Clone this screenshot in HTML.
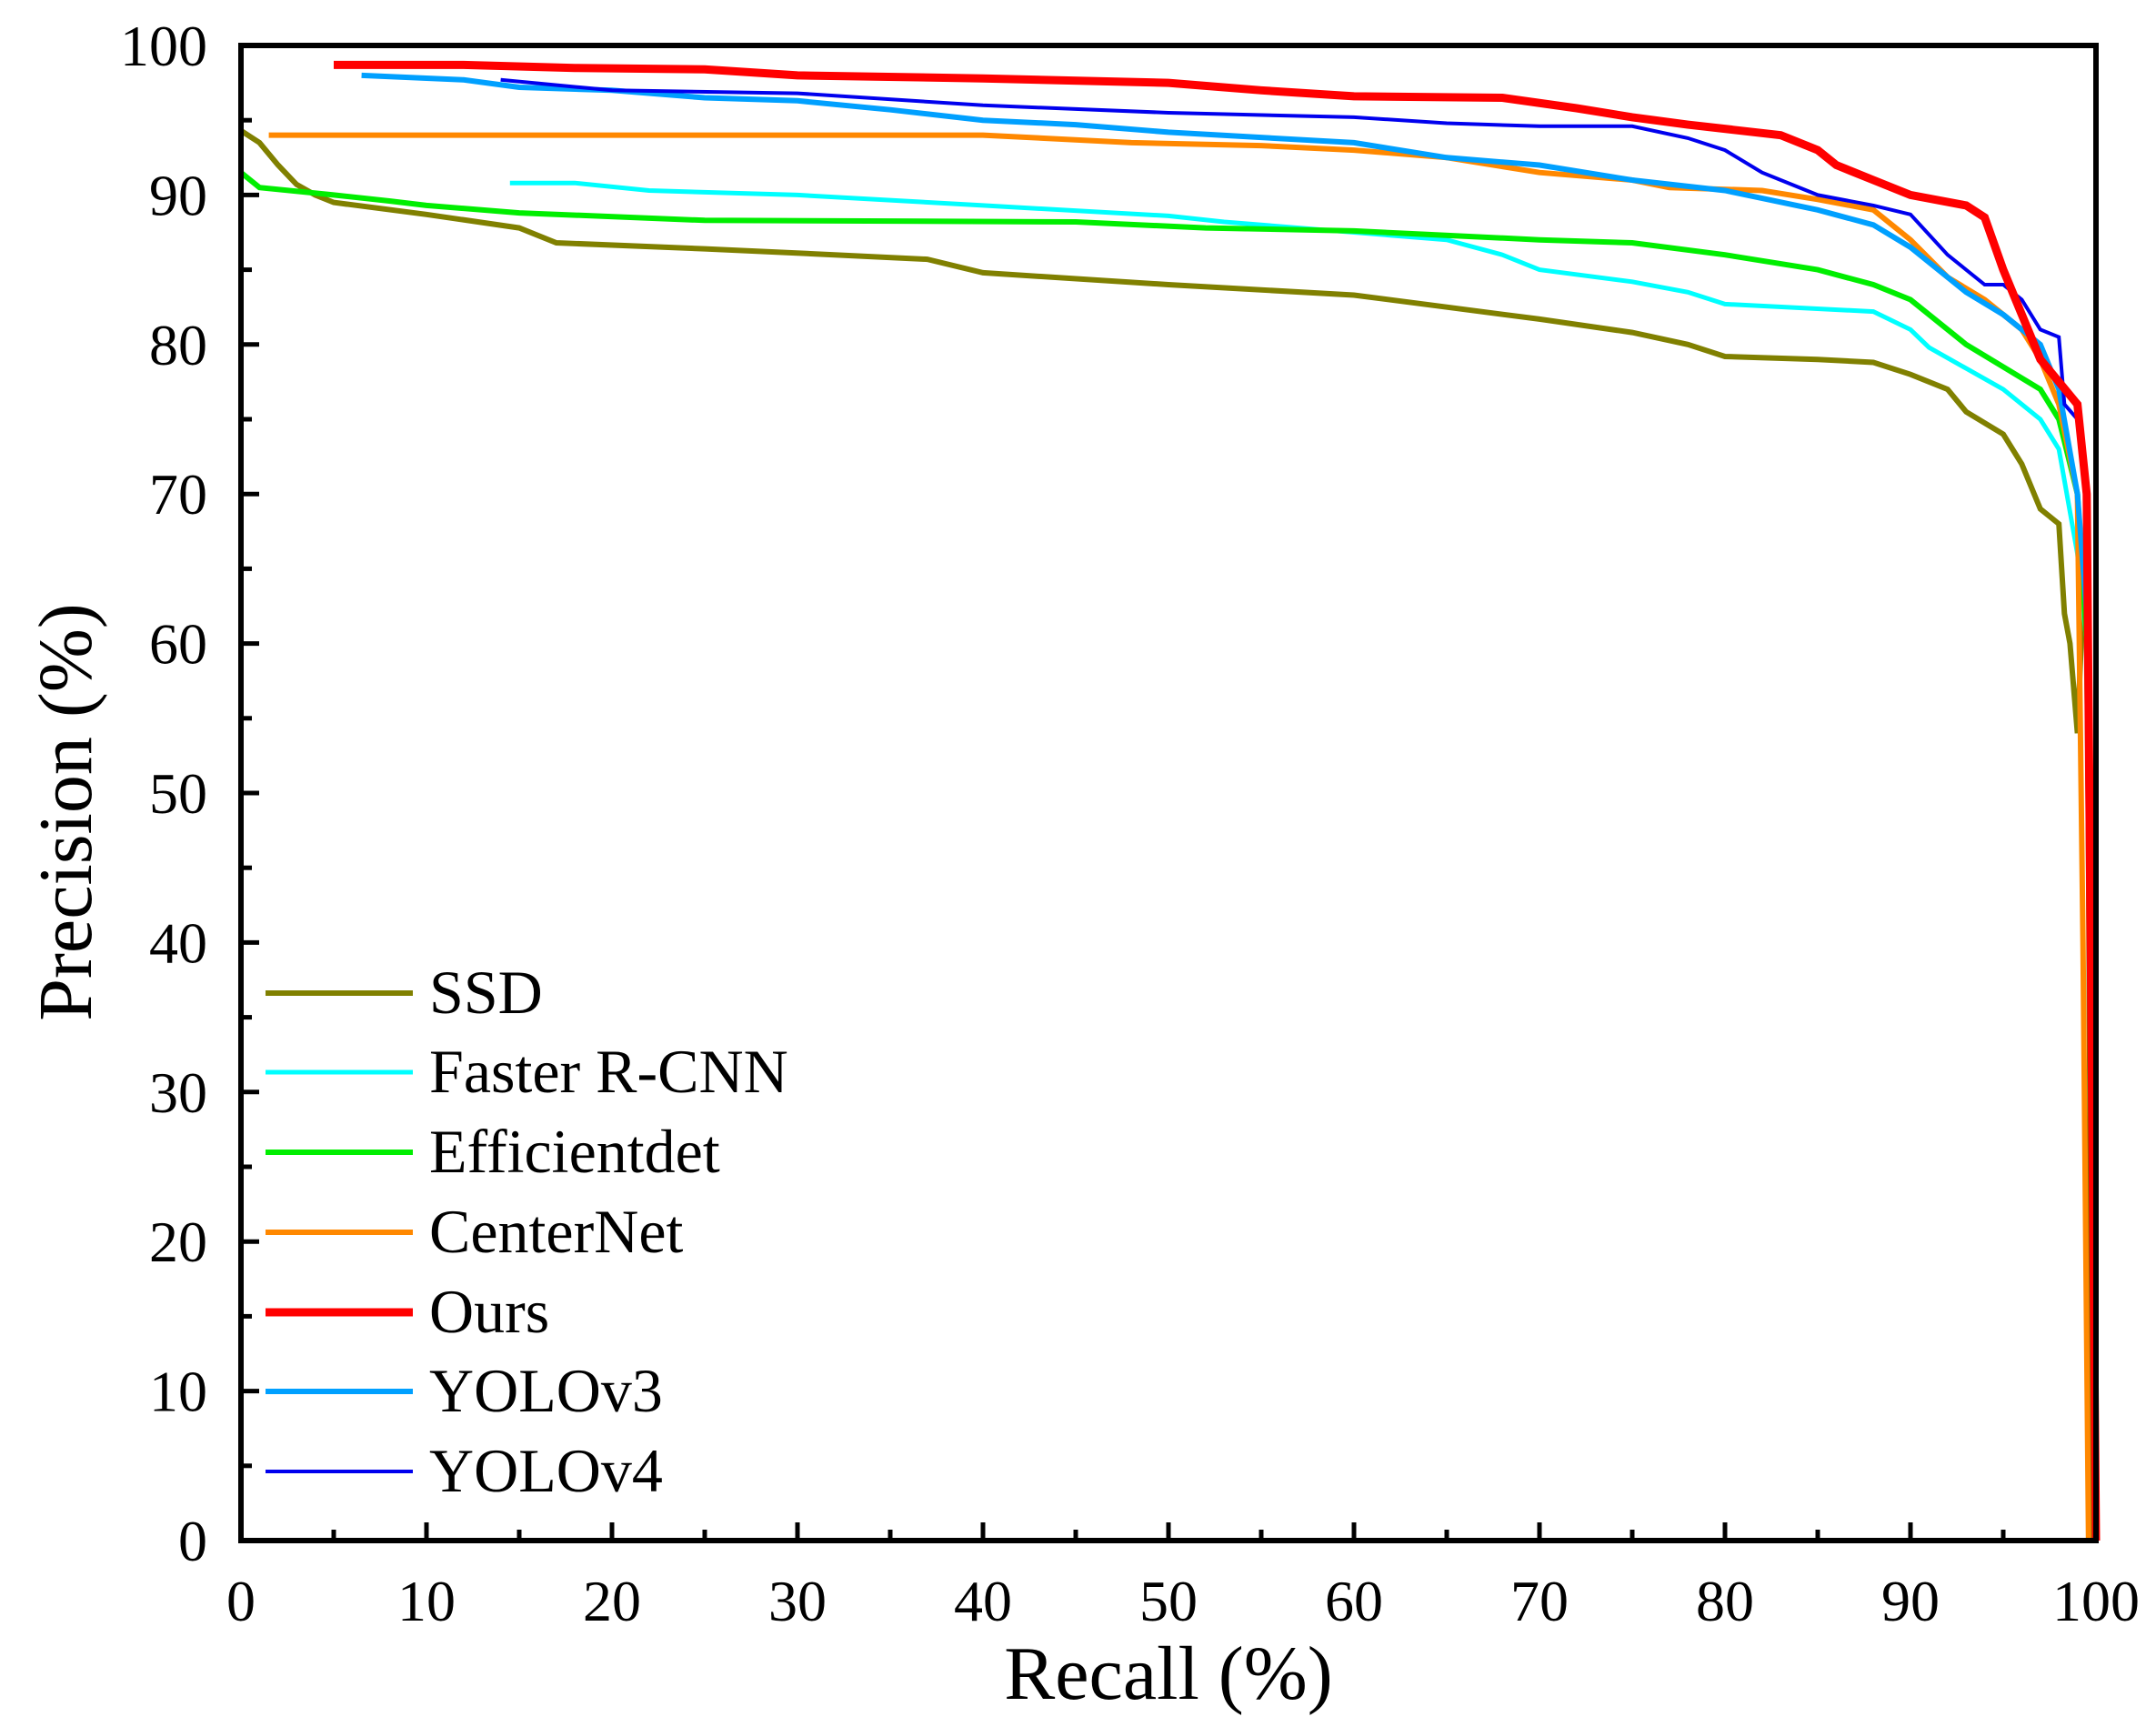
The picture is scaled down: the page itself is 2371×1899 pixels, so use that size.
<!DOCTYPE html>
<html><head><meta charset="utf-8"><style>
body{margin:0;background:#fff}
svg{display:block;font-family:"Liberation Serif",serif}
</style></head><body>
<svg id="chart" width="2371" height="1899" viewBox="0 0 2371 1899" xmlns="http://www.w3.org/2000/svg">
<g id="plot"></g>
<g id="axes"></g>
<g id="legend"></g>
</svg>
<script>
const xTicks=[0,10,20,30,40,50,60,70,80,90,100];
const yTicks=[0,10,20,30,40,50,60,70,80,90,100];
const seriesNames=["SSD","Faster R-CNN","Efficientdet","CenterNet","Ours","YOLOv3","YOLOv4"];
const ssdR=[0,1,2,3,4,5,10,15,17,25,32,37,40,50,60,65,70,75,78,80,85,88,90,92,93,95,96,97,98,98.3,98.6,99,99.2,99.5,99.8];
const ssdP=[94.3,93.5,92,90.7,90,89.5,88.7,87.8,86.8,86.4,86,85.7,84.8,84,83.3,82.5,81.7,80.8,80,79.2,79,78.8,78,77,75.5,74,72,69,68,62,60,54,60,68,0];
const frcnnR=[14.5,18,22,30,40,50,53,60,65,68,70,75,78,80,88,90,91,95,97,98,99,99.5,100];
const frcnnP=[90.8,90.8,90.3,90,89.3,88.6,88.2,87.5,87,86,85,84.2,83.5,82.7,82.2,81,79.8,77,75,73,66,60,0];
const effR=[0,1,5,8,10,15,25,45,52,60,70,75,80,85,88,90,93,97,98,99,99.5,100];
const effP=[91.5,90.5,90,89.6,89.3,88.8,88.3,88.2,87.8,87.6,87,86.8,86,85,84,83,80,77,75,70,60,0];
const cnR=[1.5,40,48,55,60,65,70,75,77,82,85,88,90,92,94,96,97,98,99,99.2,99.3,99.6];
const cnP=[94,94,93.5,93.3,93,92.5,91.5,91,90.5,90.3,89.7,89,87,84.5,83,81,79,76,70,50,40,0];
const oursR=[5,12,18,25,30,40,50,55,60,68,72,75,78,83,85,86,88,90,93,94,95,96,97,98,99,99.5,100];
const oursP=[98.7,98.7,98.5,98.4,98,97.8,97.5,97,96.6,96.5,95.8,95.2,94.7,94,93,92,91,90,89.3,88.5,85,82,79,77.5,76,70,0];
const y3R=[6.5,12,15,20,25,30,35,40,45,50,60,65,70,75,80,85,88,90,93,95,97,98,99,99.5,100];
const y3P=[98,97.7,97.2,97,96.5,96.3,95.7,95,94.7,94.2,93.5,92.5,92,91,90.3,89,88,86.5,83.5,82,80,77,70,62,0];
const y4R=[14,20,30,40,50,60,65,70,75,78,80,82,85,88,90,92,94,95,96,97,98,98.3,99,99.5,100];
const y4P=[97.7,97,96.8,96,95.5,95.2,94.8,94.6,94.6,93.8,93,91.5,90,89.3,88.7,86,84,84,83,81,80.5,76,75,70,0];

const X0=265,X1=2305,Y0=1694,Y1=50;
const sx=v=>X0+(X1-X0)*v/100;
const sy=v=>Y0-(Y0-Y1)*v/100;
const NS="http://www.w3.org/2000/svg";
function mk(tag,attrs,parent){const e=document.createElementNS(NS,tag);for(const k in attrs)e.setAttribute(k,attrs[k]);parent.appendChild(e);return e;}
const plot=document.getElementById('plot'),axes=document.getElementById('axes'),legend=document.getElementById('legend');
const series=[[ssdR,ssdP,"#808000",6],[frcnnR,frcnnP,"#00ffff",5],[effR,effP,"#00ee00",6],[cnR,cnP,"#ff8800",6],[y3R,y3P,"#00a0ff",6],[y4R,y4P,"#0000ee",4],[oursR,oursP,"#ff0000",9]];
const legendOrder=[["SSD","#808000",6],["Faster R-CNN","#00ffff",5],["Efficientdet","#00ee00",6],["CenterNet","#ff8800",6],["Ours","#ff0000",9],["YOLOv3","#00a0ff",6],["YOLOv4","#0000ee",4]];
series.forEach((s,i)=>{
  const pts=s[0].map((r,j)=>sx(r).toFixed(1)+","+sy(s[1][j]).toFixed(1)).join(" ");
  const pl=mk('polyline',{points:pts,fill:"none",stroke:s[2],"stroke-width":s[3],"stroke-linejoin":"miter"},plot);
  
  
});
const fr=mk('rect',{x:X0,y:Y1,width:X1-X0,height:Y0-Y1,fill:"none",stroke:"#000","stroke-width":6},axes);


xTicks.forEach(v=>{
  mk('line',{x1:sx(v),x2:sx(v),y1:Y0,y2:Y0-20,stroke:"#000","stroke-width":5},axes);
  if(v<100) mk('line',{x1:sx(v+5),x2:sx(v+5),y1:Y0,y2:Y0-12,stroke:"#000","stroke-width":5},axes);
  const t=mk('text',{x:sx(v),y:1782,"font-size":64,"text-anchor":"middle"},axes);t.textContent=v;
  
  
});
yTicks.forEach(v=>{
  mk('line',{x1:X0,x2:X0+20,y1:sy(v),y2:sy(v),stroke:"#000","stroke-width":5},axes);
  if(v<100) mk('line',{x1:X0,x2:X0+12,y1:sy(v+5),y2:sy(v+5),stroke:"#000","stroke-width":5},axes);
  const t=mk('text',{x:228,y:sy(v)+22,"font-size":64,"text-anchor":"end"},axes);t.textContent=v;
  
  
});
const xt=mk('text',{x:(X0+X1)/2,y:1868,"font-size":84,"text-anchor":"middle"},axes);xt.textContent="Recall (%)";


const yt=mk('text',{x:0,y:0,"font-size":84,"text-anchor":"middle",transform:"translate(100,893) rotate(-90)"},axes);yt.textContent="Precision (%)";


const rowsY=[1092,1179,1267,1355,1443,1530,1618];
legendOrder.forEach((l,i)=>{
  const g=mk('g',{},legend);
  
  
  mk('line',{x1:292,x2:454,y1:rowsY[i],y2:rowsY[i],stroke:l[1],"stroke-width":l[2]},g);
  const t=mk('text',{x:472,y:rowsY[i]+22,"font-size":68},g);t.textContent=l[0];
});
</script>
</body></html>
